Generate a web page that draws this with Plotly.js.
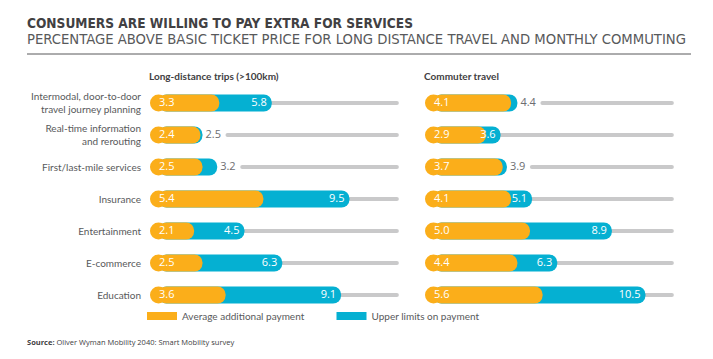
<!DOCTYPE html>
<html>
<head>
<meta charset="utf-8">
<script src="https://cdn.plot.ly/plotly-3.0.1.min.js"></script>
<style>
html,body{margin:0;padding:0;background:#fff;}
#chart{width:713px;height:359px;}
</style>
</head>
<body>
<div id="chart"></div>
<script>
// ---------------- DATA ----------------
const categories = [
  "Intermodal, door-to-door<br>travel journey planning",
  "Real-time information<br>and rerouting",
  "First/last-mile services",
  "Insurance",
  "Entertainment",
  "E-commerce",
  "Education"
];
const longAvg   = [3.3, 2.4, 2.5, 5.4, 2.1, 2.5, 3.6];
const longUpper = [5.8, 2.5, 3.2, 9.5, 4.5, 6.3, 9.1];
const commAvg   = [4.1, 2.9, 3.7, 4.1, 5.0, 4.4, 5.6];
const commUpper = [4.4, 3.6, 3.9, 5.1, 8.9, 6.3, 10.5];
const panelTitles = ["Long-distance trips (>100km)", "Commuter travel"];
const seriesNames = ["Average additional payment", "Upper limits on payment"];
const scaleMax = 11.85;

// label placement style (upper-limit label drawn outside the bar)
const longLabelOutside = [false, true, true, false, false, false, false];
const commLabelOutside = [true, false, true, false, false, false, false];

// ---------------- LAYOUT GEOMETRY ----------------
const W = 713, H = 359;
const M = {l: 0, r: 0, t: 87, b: 48};
const plotH = H - M.t - M.b;
const xMax = 12;
const leftPx = [150, 402], rightPx = [425, 677];
const ppu = (leftPx[1] - leftPx[0]) / xMax;   // pixels per unit
const px2u = p => p / ppu;
const xp = p => p / W;
const yp = p => (H - M.b - p) / plotH;

const YELLOW = "#FBAE1A", BLUE = "#05B0D2", GRAY = "#C9C9CA";
const NUMFONT = "Open Sans, Noto Sans, sans-serif";
const LABELFONT = "Lato, Open Sans, sans-serif";
const barW = 17 / 32, trackW = 4 / 32;
const rU = px2u(8.5);

function panelTraces(avg, upper, outside, xa) {
  const trackStart = upper.map((u, i) => outside[i] ? u + px2u(23) : u - 0.3);
  const tr = [];
  tr.push({type: "bar", orientation: "h", xaxis: xa, yaxis: "y",
    y: categories, base: trackStart, x: trackStart.map(s => scaleMax - s),
    width: trackW, marker: {color: GRAY, cornerradius: "50%"},
    hoverinfo: "skip", showlegend: false});
  tr.push({type: "bar", orientation: "h", xaxis: xa, yaxis: "y",
    y: categories, base: upper.map(() => rU), x: upper.map(u => u - rU),
    width: barW, marker: {color: BLUE, cornerradius: "50%"},
    name: seriesNames[1], showlegend: false});
  tr.push({type: "bar", orientation: "h", xaxis: xa, yaxis: "y",
    y: categories, base: avg.map(() => rU), x: avg.map(a => a - rU),
    width: barW, marker: {color: YELLOW, cornerradius: "50%"},
    name: seriesNames[0], showlegend: false});
  // rounded left caps
  tr.push({type: "scatter", mode: "markers", xaxis: xa, yaxis: "y",
    y: categories, x: avg.map(() => rU),
    marker: {color: YELLOW, size: 17, line: {width: 0}},
    hoverinfo: "skip", showlegend: false});
  // avg labels
  tr.push({type: "scatter", mode: "text", xaxis: xa, yaxis: "y",
    y: categories, x: avg.map(() => px2u(9)),
    text: avg.map(v => v.toFixed(1)), textposition: "middle right",
    textfont: {family: NUMFONT, size: 11, color: "#ffffff"},
    hoverinfo: "skip", showlegend: false});
  // upper labels
  tr.push({type: "scatter", mode: "text", xaxis: xa, yaxis: "y",
    y: categories,
    x: upper.map((u, i) => outside[i] ? u + px2u(3) : u - px2u(5)),
    text: upper.map(v => v.toFixed(1)),
    textposition: outside.map(o => o ? "middle right" : "middle left"),
    textfont: {family: NUMFONT, size: 11, color: outside.map(o => o ? "#6d6e71" : "#ffffff")},
    hoverinfo: "skip", showlegend: false});
  return tr;
}

const data = [].concat(
  panelTraces(longAvg, longUpper, longLabelOutside, "x"),
  panelTraces(commAvg, commUpper, commLabelOutside, "x2"),
  [
    {type: "scatter", mode: "lines", x: [null], y: [null], xaxis: "x", yaxis: "y",
     name: seriesNames[0], line: {color: YELLOW, width: 8}, showlegend: true},
    {type: "scatter", mode: "lines", x: [null], y: [null], xaxis: "x", yaxis: "y",
     name: seriesNames[1], line: {color: BLUE, width: 8}, showlegend: true}
  ]
);

const TITLEFONT = "Liberation Sans Narrow, DejaVu Sans Condensed, Roboto, sans-serif";
const layout = {
  width: W, height: H,
  margin: M,
  paper_bgcolor: "#ffffff", plot_bgcolor: "#ffffff",
  barmode: "overlay",
  showlegend: true,
  legend: {orientation: "h", x: xp(142), y: yp(316), yanchor: "middle", xanchor: "left",
    font: {family: LABELFONT, size: 10, color: "#58595b"},
    entrywidth: 144.5, entrywidthmode: "pixels",
    itemclick: false, itemdoubleclick: false, traceorder: "normal",
    bgcolor: "rgba(0,0,0,0)"},
  xaxis: {domain: [xp(leftPx[0]), xp(leftPx[1])], range: [0, xMax], visible: false, fixedrange: true},
  xaxis2: {domain: [xp(rightPx[0]), xp(rightPx[1])], range: [0, xMax], visible: false, anchor: "y", fixedrange: true},
  yaxis: {type: "category", categoryorder: "array", categoryarray: categories,
    range: [categories.length - 0.5, -0.5], showgrid: false, zeroline: false, showline: false,
    ticks: "", ticklabelstandoff: 8,
    tickfont: {family: LABELFONT, size: 10, color: "#58595b"},
    fixedrange: true},
  shapes: [
    {type: "line", xref: "paper", yref: "paper", x0: xp(27), x1: xp(691), y0: yp(54), y1: yp(54),
     line: {color: "#58595b", width: 1}}
  ],
  annotations: [
    {xref: "paper", yref: "paper", x: xp(25), y: yp(23), xanchor: "left", yanchor: "middle",
     text: "<b>CONSUMERS ARE WILLING TO PAY EXTRA FOR SERVICES</b>", showarrow: false,
     font: {family: TITLEFONT, size: 13.6, color: "#414042"}},
    {xref: "paper", yref: "paper", x: xp(25), y: yp(38.5), xanchor: "left", yanchor: "middle",
     text: "PERCENTAGE ABOVE BASIC TICKET PRICE FOR LONG DISTANCE TRAVEL AND MONTHLY COMMUTING", showarrow: false,
     font: {family: TITLEFONT, size: 14.7, color: "#58595b"}},
    {xref: "paper", yref: "paper", x: xp(147), y: yp(76), xanchor: "left", yanchor: "middle",
     text: "<b>" + panelTitles[0] + "</b>", showarrow: false,
     font: {family: LABELFONT, size: 10, color: "#414042"}},
    {xref: "paper", yref: "paper", x: xp(422), y: yp(76), xanchor: "left", yanchor: "middle",
     text: "<b>" + panelTitles[1] + "</b>", showarrow: false,
     font: {family: LABELFONT, size: 10, color: "#414042"}},
    {xref: "paper", yref: "paper", x: xp(25), y: yp(342), xanchor: "left", yanchor: "middle",
     text: "<b>Source:</b> Oliver Wyman Mobility 2040: Smart Mobility survey", showarrow: false,
     font: {family: "Open Sans, sans-serif", size: 7.5, color: "#414042"}}
  ]
};

Plotly.newPlot("chart", data, layout, {displayModeBar: false, staticPlot: true});
</script>
</body>
</html>
